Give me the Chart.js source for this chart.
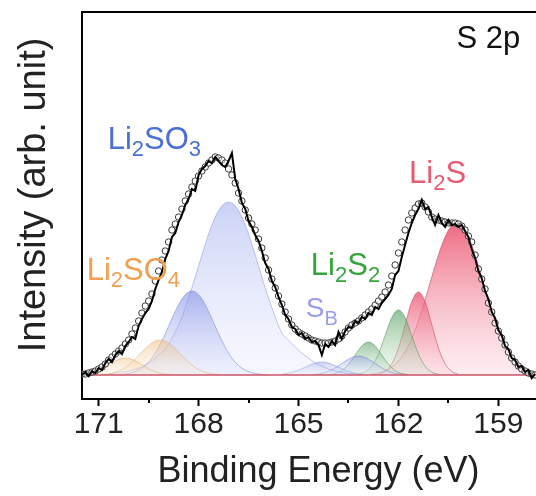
<!DOCTYPE html>
<html><head><meta charset="utf-8">
<script src="https://cdn.jsdelivr.net/npm/chart.js@4.4.1/dist/chart.umd.min.js"></script>
<style>html,body{margin:0;padding:0;background:#fff;overflow:hidden;width:536px;height:496px}canvas{display:block}</style>
</head><body>
<canvas id="c" width="560" height="496"></canvas>
<script>
const FONT = '"Liberation Sans", Arial, Helvetica, sans-serif';

// ---- data (binding energy in eV, intensity in arb. units; baseline = 0) ----
const energy = [171.5,171.4,171.3,171.2,171.1,171.0,170.9,170.8,170.7,170.6,170.5,170.4,170.3,170.2,170.1,170.0,169.9,169.8,169.7,169.6,169.5,169.4,169.3,169.2,169.1,169.0,168.9,168.8,168.7,168.6,168.5,168.4,168.3,168.2,168.1,168.0,167.9,167.8,167.7,167.6,167.5,167.4,167.3,167.2,167.1,167.0,166.9,166.8,166.7,166.6,166.5,166.4,166.3,166.2,166.1,166.0,165.9,165.8,165.7,165.6,165.5,165.4,165.3,165.2,165.1,165.0,164.9,164.8,164.7,164.6,164.5,164.4,164.3,164.2,164.1,164.0,163.9,163.8,163.7,163.6,163.5,163.4,163.3,163.2,163.1,163.0,162.9,162.8,162.7,162.6,162.5,162.4,162.3,162.2,162.1,162.0,161.9,161.8,161.7,161.6,161.5,161.4,161.3,161.2,161.1,161.0,160.9,160.8,160.7,160.6,160.5,160.4,160.3,160.2,160.1,160.0,159.9,159.8,159.7,159.6,159.5,159.4,159.3,159.2,159.1,159.0,158.9,158.8,158.7,158.6,158.5,158.4,158.3,158.2,158.1,158.0,157.9];

const fitEnvelope = [1,1,2,3,4,6,8,11,15,18,21,24,27,31,35,41,47,54,62,69,74,81,94,104,115,124,133,145,151,158,166,174,181,188,194,199,204,208,212,215,218,217,215,212,206,200,192,182,174,165,157,151,145,136,127,117,105,96,87,79,71,63,56,50,46,43,41,39,37,35,34,33,32,32,32,33,34,36,39,43,47,50,52,54,57,60,63,66,70,74,78,83,90,99,110,122,133,145,155,162,167,171,172,168,163,158,156,155,154,153,152,152,152,151,149,145,139,133,120,106,96,86,72,63,52,44,37,30,23,17,13,9,6,4,2,1,0];

const rawSignal = [0,3,-1,4,2,7,5,12,16,13,20,24,21,29,33,38,36,49,56,62,66,74,86,95,103,116,124,138,142,153,160,170,176,186,184,200,206,209,214,212,218,214,210,208,214,222,196,186,172,166,154,148,140,134,124,112,106,94,88,78,70,60,56,48,46,40,42,36,38,33,34,30,20,31,28,34,30,43,36,44,48,47,54,52,58,56,62,60,68,66,72,76,80,86,100,104,118,130,142,152,160,166,175,166,168,158,150,160,152,148,155,150,151,148,150,144,138,126,117,104,97,84,76,63,57,45,40,29,26,17,15,8,9,3,5,-3,1];

const baselineE = [171.5, 157.3];
const baselineI = [0, 0];

const li2so4bE = [171.6,171.4,171.2,171.0,170.8,170.6,170.4,170.2,170.0,169.8,169.6,169.4,169.2,169.0,168.8];
const li2so4bI = [0.3,1.0,2.3,4.7,8.3,12.3,15.7,17,15.7,12.3,8.3,4.7,2.3,1.0,0.3];

const li2so4aE = [170.95,170.75,170.55,170.35,170.15,169.95,169.75,169.55,169.35,169.15,168.95,168.75,168.55,168.35,168.15,167.95,167.75,167.55,167.35];
const li2so4aI = [0.4,1.0,2.3,4.7,8.7,14.4,21.2,28.0,33.1,35,33.1,28.0,21.2,14.4,8.7,4.7,2.3,1.0,0.4];

const li2so3bE = [170.4,170.2,170.0,169.8,169.6,169.4,169.2,169.0,168.8,168.6,168.4,168.2,168.0,167.8,167.6,167.4,167.2,167.0,166.8,166.6,166.4,166.2,166.0];
const li2so3bI = [0.4,1.0,2.3,4.9,9.5,16.9,27.6,41.2,56.3,70.3,80.3,84,80.3,70.3,56.3,41.2,27.6,16.9,9.5,4.9,2.3,1.0,0.4];

const li2so3aE = [170.7,170.5,170.3,170.1,169.9,169.7,169.5,169.3,169.1,168.9,168.7,168.5,168.3,168.1,167.9,167.7,167.5,167.3,167.1,166.9,166.7,166.5,166.3,166.1,165.9,165.7,165.5,165.3,165.1,164.9,164.7,164.5,164.3,164.1,163.9,163.7,163.5,163.3];
const li2so3aI = [1,2,3,4,6,8,12,17,23,31,43,58,77,98,120,141,158,169,173,169,158,141,120,98,77,58,42,35,28,22,17,12,9,6,4,2.5,1.5,0.8];

const sbBE = [165.5,165.3,165.1,164.9,164.7,164.5,164.3,164.1,163.9,163.7,163.5,163.3,163.1];
const sbBI = [0.7,1.8,3.6,6.3,9.4,12.0,13,12.0,9.4,6.3,3.6,1.8,0.7];

const sbAE = [164.6,164.4,164.2,164.0,163.8,163.6,163.4,163.2,163.0,162.8,162.6,162.4,162.2,162.0,161.8];
const sbAI = [0.4,1.1,2.6,5.3,9.3,13.8,17.5,19,17.5,13.8,9.3,5.3,2.6,1.1,0.4];

const li2s2bE = [164.1,163.9,163.7,163.5,163.3,163.1,162.9,162.7,162.5,162.3,162.1,161.9,161.7];
const li2s2bI = [0.4,1.4,4.5,10.7,20.0,29.1,33,29.1,20.0,10.7,4.5,1.4,0.4];

const li2s2aE = [163.2,163.0,162.8,162.6,162.4,162.2,162.0,161.8,161.6,161.4,161.2,161.0,160.8];
const li2s2aI = [0.7,2.9,8.8,21.1,39.4,57.4,65,57.4,39.4,21.1,8.8,2.9,0.7];

const li2sbE = [162.6,162.4,162.2,162.0,161.8,161.6,161.4,161.2,161.0,160.8,160.6,160.4,160.2];
const li2sbI = [0.9,3.6,11.2,26.9,50.3,73.2,83,73.2,50.3,26.9,11.2,3.6,0.9];

const li2saE = [162.85,162.65,162.45,162.25,162.05,161.85,161.65,161.45,161.25,161.05,160.85,160.65,160.45,160.25,160.05,159.85,159.65,159.45,159.25,159.05,158.85,158.65,158.45,158.25,158.05,157.85,157.65];
const li2saI = [0.8,1.7,3.5,6.7,12.1,20.6,32.9,49.4,69.6,92.2,114.7,134.1,147.3,152,147.3,134.1,114.7,92.2,69.6,49.4,32.9,20.6,12.1,6.7,3.5,1.7,0.8];

const xTickValues = [171, 168, 165, 162, 159];
const minorTickValues = [169.5, 166.5, 163.5, 160.5];

// ---- helpers ----
const pts = (xs, ys) => xs.map((x, i) => ({x, y: ys[i]}));
function vGrad(top, bottom) {
  return (c) => {
    const ch = c.chart, area = ch.chartArea;
    if (!area) return top;
    const ds = ch.data.datasets[c.datasetIndex];
    const maxV = Math.max(...ds.data.map(p => p.y));
    const y0 = ch.scales.y.getPixelForValue(maxV);
    const y1 = ch.scales.y.getPixelForValue(0);
    const g = ch.ctx.createLinearGradient(0, y0, 0, y1);
    g.addColorStop(0, top); g.addColorStop(1, bottom);
    return g;
  };
}
function comp(xs, ys, top, bottom, line) {
  return {data: pts(xs, ys), fill: 'origin', backgroundColor: vGrad(top, bottom),
    borderColor: line, borderWidth: 1, pointRadius: 0, cubicInterpolationMode: 'monotone', order: 3};
}

const labelPlugin = {
  id: 'peakLabels',
  afterDatasetsDraw(chart, args, opts) {
    const {ctx} = chart, x = chart.scales.x, y = chart.scales.y;
    ctx.save();
    ctx.textBaseline = 'alphabetic'; ctx.textAlign = 'left';
    for (const L of opts.items) {
      let px = x.getPixelForValue(L.at[0]);
      const py = y.getPixelForValue(L.at[1]);
      ctx.fillStyle = L.color;
      for (const [t, sub] of L.parts) {
        ctx.font = (sub ? L.sub : L.size) + 'px ' + FONT;
        ctx.fillText(t, px, py + (sub ? L.drop : 0));
        px += ctx.measureText(t).width;
      }
    }
    ctx.restore();
  }
};
const minorTickPlugin = {
  id: 'minorTicks',
  afterDraw(chart) {
    const {ctx} = chart, x = chart.scales.x, b = chart.chartArea.bottom;
    ctx.save(); ctx.strokeStyle = '#000'; ctx.lineWidth = 2;
    for (const v of minorTickValues) {
      const px = Math.round(x.getPixelForValue(v));
      ctx.beginPath(); ctx.moveTo(px, b); ctx.lineTo(px, b + 4); ctx.stroke();
    }
    ctx.restore();
  }
};

new Chart(document.getElementById('c'), {
  type: 'line',
  data: {
    datasets: [
      {data: pts(energy, rawSignal), borderColor: '#000', borderWidth: 2, pointRadius: 0, fill: false, order: 0},
      {data: pts(energy, fitEnvelope), showLine: false, pointRadius: 3.2, pointBorderWidth: 1,
       pointBorderColor: '#3a3a3a', pointBackgroundColor: 'rgba(255,255,255,0.5)', order: 1},
      {data: pts(baselineE, baselineI), borderColor: 'rgb(205,80,100)', borderWidth: 1.5, pointRadius: 0, fill: false, order: 2},
      comp(li2so4bE, li2so4bI, 'rgba(238,185,115,0.45)', 'rgba(250,232,205,0.2)', 'rgba(220,170,110,0.5)'),
      comp(li2so4aE, li2so4aI, 'rgba(238,185,115,0.5)', 'rgba(250,232,205,0.2)', 'rgba(220,170,110,0.5)'),
      comp(li2so3bE, li2so3bI, 'rgba(125,140,228,0.6)', 'rgba(205,210,248,0.2)', 'rgba(110,125,215,0.5)'),
      comp(li2so3aE, li2so3aI, 'rgba(160,172,238,0.55)', 'rgba(215,220,250,0.2)', 'rgba(120,135,220,0.45)'),
      comp(sbBE, sbBI, 'rgba(150,158,230,0.45)', 'rgba(215,220,248,0.2)', 'rgba(120,130,215,0.45)'),
      comp(sbAE, sbAI, 'rgba(140,150,228,0.5)', 'rgba(215,220,248,0.2)', 'rgba(110,120,210,0.5)'),
      comp(li2s2bE, li2s2bI, 'rgba(90,160,100,0.6)', 'rgba(205,232,205,0.25)', 'rgba(70,140,80,0.5)'),
      comp(li2s2aE, li2s2aI, 'rgba(85,160,95,0.65)', 'rgba(205,232,205,0.25)', 'rgba(70,140,80,0.5)'),
      comp(li2sbE, li2sbI, 'rgba(236,85,115,0.8)', 'rgba(250,205,215,0.3)', 'rgba(210,60,90,0.55)'),
      comp(li2saE, li2saI, 'rgba(236,80,108,0.85)', 'rgba(250,205,215,0.35)', 'rgba(200,55,85,0.55)')
    ]
  },
  options: {
    responsive: false, animation: false, devicePixelRatio: 1,
    layout: {padding: {top: 12, left: 0, right: 0, bottom: 0}},
    plugins: {
      legend: {display: false}, tooltip: {enabled: false},
      peakLabels: {items: [
        {parts: [['Li',0],['2',1],['SO',0],['3',1]], color: '#4a6fd6', at: [170.73, 226], size: 31, sub: 22, drop: 7},
        {parts: [['Li',0],['2',1],['SO',0],['4',1]], color: '#f0a050', at: [171.36, 95], size: 31, sub: 22, drop: 7},
        {parts: [['Li',0],['2',1],['S',0],['2',1]], color: '#36a43c', at: [164.63, 100], size: 31, sub: 22, drop: 7},
        {parts: [['S',0],['B',1]], color: '#9a9cf0', at: [164.78, 58], size: 28, sub: 20, drop: 8},
        {parts: [['Li',0],['2',1],['S',0]], color: '#ec5a72', at: [161.68, 192], size: 31, sub: 22, drop: 7},
        {parts: [['S 2p',0]], color: '#111', at: [160.26, 327], size: 31, sub: 22, drop: 0}
      ]}
    },
    scales: {
      x: {
        type: 'linear', position: 'bottom', reverse: true, min: 157.3, max: 171.5,
        afterBuildTicks: (s) => { s.ticks = xTickValues.map(v => ({value: v})); },
        afterFit: (s) => { s.height = 97; },
        ticks: {font: {size: 30, family: FONT}, color: '#222', padding: 1, maxRotation: 0, autoSkip: false, callback: (v) => String(v)},
        grid: {display: true, drawOnChartArea: false, drawTicks: true, tickLength: 7, tickWidth: 2, tickColor: '#000', color: '#000'},
        border: {display: true, color: '#000', width: 2},
        title: {display: true, text: 'Binding Energy (eV)', font: {size: 36, family: FONT}, color: '#222', padding: {top: 0, bottom: 2}}
      },
      x2: {
        type: 'linear', position: 'top', reverse: true, min: 157.3, max: 171.5,
        afterFit: (s) => { s.height = 0; },
        ticks: {display: false}, grid: {display: false, drawTicks: false},
        border: {display: true, color: '#000', width: 2}
      },
      y: {
        type: 'linear', position: 'left', min: -24, max: 363,
        afterFit: (s) => { s.width = 82; },
        ticks: {display: false}, grid: {display: false, drawTicks: false},
        border: {display: true, color: '#000', width: 2},
        title: {display: true, text: '  Intensity (arb. unit)', font: {size: 38, family: FONT}, color: '#222', padding: {top: 12, bottom: 0}}
      }
    }
  },
  plugins: [labelPlugin, minorTickPlugin]
});
</script>
</body></html>
